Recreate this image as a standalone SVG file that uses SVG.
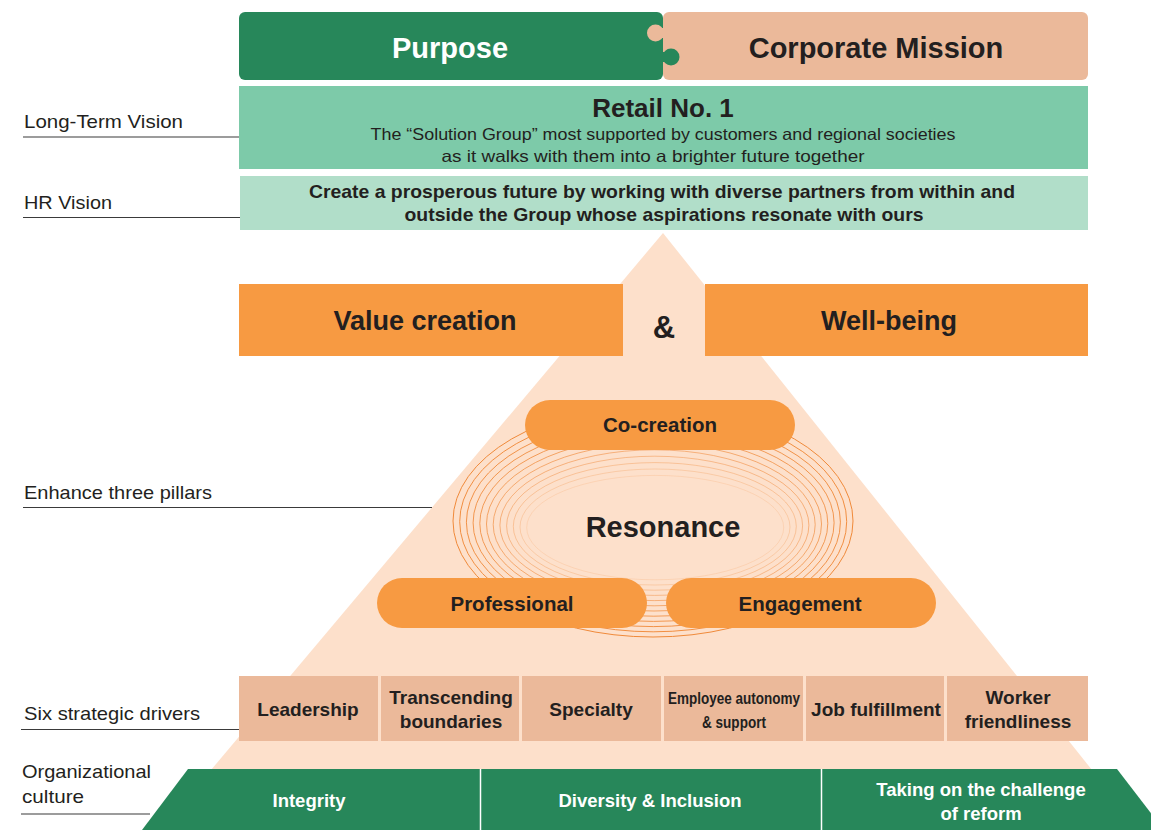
<svg xmlns="http://www.w3.org/2000/svg" width="1151" height="830" viewBox="0 0 1151 830">
<style>
.lbl{font-family:"Liberation Sans",Arial,sans-serif;font-size:19px;fill:#231f20}
.t{font-family:"Liberation Sans",Arial,sans-serif;fill:#231f20;text-anchor:middle}
.w{fill:#ffffff}
.b{font-weight:bold}
.ln{stroke:#3a3a3a;stroke-width:1.2;fill:none}
.ring{fill:none;stroke:#f08a3a}
.drv{fill:#ebb99a}
.pill{fill:#f79a42}
</style>
<rect width="1151" height="830" fill="#ffffff"/>

<!-- pyramid background -->
<polygon id="pyramid" points="663,233 1092,770 211,770" fill="#fde0cb"/>

<!-- top puzzle -->
<g id="purpose">
  <rect x="239" y="12" width="424" height="68" rx="6" fill="#27875a"/>
  <text class="t w b" x="450" y="58" font-size="29">Purpose</text>
</g>
<g id="mission">
  <rect x="663" y="12" width="425" height="68" rx="6" fill="#ebb99a"/>
  <circle cx="655.5" cy="33" r="8.5" fill="#ebb99a"/>
  <rect x="656" y="28" width="10" height="10" fill="#ebb99a"/>
  <circle cx="671" cy="57" r="8.5" fill="#27875a"/>
  <rect x="660" y="52" width="11" height="10" fill="#27875a"/>
  <text class="t b" x="876" y="58" font-size="29">Corporate Mission</text>
</g>

<g id="longterm">
  <rect x="239" y="86" width="849" height="83" fill="#7dcaa9"/>
  <text class="t b" x="663" y="117" font-size="26">Retail No. 1</text>
  <text class="t" x="663" y="140" font-size="16.5" textLength="585" lengthAdjust="spacingAndGlyphs">The “Solution Group” most supported by customers and regional societies</text>
  <text class="t" x="653" y="162" font-size="16.5" textLength="423" lengthAdjust="spacingAndGlyphs">as it walks with them into a brighter future together</text>
</g>

<g id="hrvision">
  <rect x="240" y="176" width="848" height="54" fill="#b1dec9"/>
  <text class="t b" x="662" y="198" font-size="19" textLength="706" lengthAdjust="spacingAndGlyphs">Create a prosperous future by working with diverse partners from within and</text>
  <text class="t b" x="664" y="221" font-size="19" textLength="519" lengthAdjust="spacingAndGlyphs">outside the Group whose aspirations resonate with ours</text>
</g>

<g id="valuecreation">
  <rect x="239" y="284" width="384" height="72" fill="#f79a42"/>
  <text class="t b" x="425" y="330" font-size="27">Value creation</text>
</g>
<text class="t b" x="664" y="338" font-size="31">&amp;</text>
<g id="wellbeing">
  <rect x="705" y="284" width="383" height="72" fill="#f79a42"/>
  <text class="t b" x="889" y="330" font-size="27">Well-being</text>
</g>

<!-- resonance rings -->
<g id="resonance">
  <ellipse class="ring" cx="653" cy="521" rx="200" ry="116" stroke-opacity="1"/>
  <ellipse class="ring" cx="653.2" cy="521.6" rx="193.5" ry="110.2" stroke-opacity="0.95"/>
  <ellipse class="ring" cx="653.4" cy="522.2" rx="187" ry="104.4" stroke-opacity="0.9"/>
  <ellipse class="ring" cx="653.6" cy="522.8" rx="180.5" ry="98.6" stroke-opacity="0.85"/>
  <ellipse class="ring" cx="653.8" cy="523.4" rx="174" ry="92.8" stroke-opacity="0.8"/>
  <ellipse class="ring" cx="654" cy="524" rx="167.5" ry="87" stroke-opacity="0.72"/>
  <ellipse class="ring" cx="654.2" cy="524.6" rx="161" ry="81.2" stroke-opacity="0.64"/>
  <ellipse class="ring" cx="654.4" cy="525.2" rx="154.5" ry="75.4" stroke-opacity="0.56"/>
  <ellipse class="ring" cx="654.6" cy="525.8" rx="148" ry="69.6" stroke-opacity="0.46"/>
  <ellipse class="ring" cx="654.8" cy="526.4" rx="141.5" ry="63.8" stroke-opacity="0.36"/>
  <ellipse class="ring" cx="655" cy="527" rx="135" ry="58" stroke-opacity="0.26"/>
  <ellipse class="ring" cx="655.2" cy="527.6" rx="128.5" ry="52.2" stroke-opacity="0.16"/>
  <text class="t b" x="663" y="537" font-size="29">Resonance</text>
</g>

<g id="cocreation">
  <rect class="pill" x="525" y="400" width="270" height="50" rx="25"/>
  <text class="t b" x="660" y="432" font-size="20.5">Co-creation</text>
</g>
<g id="professional">
  <rect class="pill" x="377" y="578" width="270" height="50" rx="25"/>
  <text class="t b" x="512" y="611" font-size="20.5">Professional</text>
</g>
<g id="engagement">
  <rect class="pill" x="666" y="578" width="270" height="50" rx="25"/>
  <text class="t b" x="800" y="611" font-size="20.5">Engagement</text>
</g>

<!-- six drivers -->
<g id="drivers" font-size="19" font-weight="bold">
  <rect class="drv" x="239" y="676" width="139" height="65"/>
  <rect class="drv" x="381" y="676" width="138" height="65"/>
  <rect class="drv" x="522" y="676" width="139" height="65"/>
  <rect class="drv" x="664" y="676" width="139" height="65"/>
  <rect class="drv" x="806" y="676" width="138" height="65"/>
  <rect class="drv" x="947" y="676" width="141" height="65"/>
  <text class="t" x="308" y="716">Leadership</text>
  <text class="t" x="451" y="704">Transcending</text>
  <text class="t" x="451" y="728">boundaries</text>
  <text class="t" x="591" y="716">Specialty</text>
  <text class="t" x="734" y="704" font-size="17" textLength="132" lengthAdjust="spacingAndGlyphs">Employee autonomy</text>
  <text class="t" x="734" y="728" font-size="17" textLength="64" lengthAdjust="spacingAndGlyphs">&amp; support</text>
  <text class="t" x="876" y="716">Job fulfillment</text>
  <text class="t" x="1018" y="704">Worker</text>
  <text class="t" x="1018" y="728">friendliness</text>
</g>

<!-- organizational culture -->
<g id="culture">
  <polygon points="188,769 1117,769 1164,830 142,830" fill="#27875a"/>
  <line x1="480.5" y1="769" x2="480.5" y2="830" stroke="#ffffff" stroke-width="1.5"/>
  <line x1="821.5" y1="769" x2="821.5" y2="830" stroke="#ffffff" stroke-width="1.5"/>
  <text class="t w b" x="309" y="807" font-size="18.5">Integrity</text>
  <text class="t w b" x="650" y="807" font-size="18.5">Diversity &amp; Inclusion</text>
  <text class="t w b" x="981" y="796" font-size="18.5">Taking on the challenge</text>
  <text class="t w b" x="981" y="820" font-size="18.5">of reform</text>
</g>

<!-- left labels and leader lines -->
<g id="labels">
  <text class="lbl" x="24" y="128" textLength="159" lengthAdjust="spacingAndGlyphs">Long-Term Vision</text>
  <line class="ln" x1="23" y1="137" x2="239" y2="137"/>
  <text class="lbl" x="24" y="209" textLength="88" lengthAdjust="spacingAndGlyphs">HR Vision</text>
  <line class="ln" x1="23" y1="217.5" x2="240" y2="217.5"/>
  <text class="lbl" x="24" y="499" textLength="188" lengthAdjust="spacingAndGlyphs">Enhance three pillars</text>
  <line class="ln" x1="23" y1="507.5" x2="432" y2="507.5"/>
  <text class="lbl" x="24" y="720" textLength="176" lengthAdjust="spacingAndGlyphs">Six strategic drivers</text>
  <line class="ln" x1="21" y1="729.5" x2="239" y2="729.5"/>
  <text class="lbl" x="22" y="778" textLength="129" lengthAdjust="spacingAndGlyphs">Organizational</text>
  <text class="lbl" x="22" y="803" textLength="62" lengthAdjust="spacingAndGlyphs">culture</text>
  <line class="ln" x1="21" y1="814" x2="150" y2="814" stroke="#777777"/>
</g>
</svg>
